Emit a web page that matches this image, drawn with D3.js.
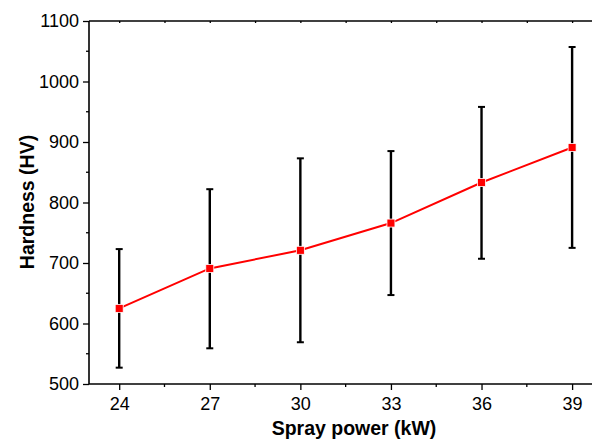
<!DOCTYPE html>
<html>
<head>
<meta charset="utf-8">
<script src="https://cdn.jsdelivr.net/npm/d3@7"></script>
<style>
  body { margin: 0; background: #fff; }
  svg { display: block; font-family: "Liberation Sans", Arial, sans-serif; }
</style>
</head>
<body>
<div id="chart"></div>
<script>
// data
const power = [24, 27, 30, 33, 36, 39];
const hardness = [625, 691, 721, 766, 833, 891];
const errLow = [527, 559, 569, 647, 707, 725];
const errHigh = [723, 822, 873, 885, 958, 1057];
const xTicks = [24, 27, 30, 33, 36, 39];
const yTicks = [500, 600, 700, 800, 900, 1000, 1100];

const width = 592;
const height = 443;

const svg = d3.select('#chart')
  .append('svg')
  .attr('width', width)
  .attr('height', height);

// plot frame, right side runs past the image edge
const x = d3.scaleLinear().domain([23, 40]).range([89, 602.3]);
const y = d3.scaleLinear().domain([500, 1100]).range([384, 21]);

const xMinor = d3.range(22.5, 40, 1.5).filter((v) => v > 23 && !xTicks.includes(v));
const yMinor = d3.range(550, 1100, 100);

// bottom axis
const xAxis = svg.append('g')
  .attr('transform', `translate(0,${y(500)})`)
  .call(d3.axisBottom(x).tickValues(xTicks).tickSize(6).tickPadding(7).tickFormat(d3.format('d')));
xAxis.append('g')
  .selectAll('line')
  .data(xMinor)
  .enter()
  .append('line')
  .attr('x1', (d) => x(d))
  .attr('x2', (d) => x(d))
  .attr('y1', 0)
  .attr('y2', 3);

// top axis (ticks inward)
const topAxis = svg.append('g')
  .attr('transform', `translate(0,${y(1100)})`)
  .call(d3.axisTop(x).tickValues(xTicks.concat(xMinor)).tickSize(-2).tickFormat(''));

// left axis
const yAxis = svg.append('g')
  .attr('transform', `translate(${x(23)},0)`)
  .call(d3.axisLeft(y).tickValues(yTicks).tickSize(6).tickPadding(4).tickFormat(d3.format('d')));
yAxis.append('g')
  .selectAll('line')
  .data(yMinor)
  .enter()
  .append('line')
  .attr('x1', 0)
  .attr('x2', -3)
  .attr('y1', (d) => y(d))
  .attr('y2', (d) => y(d));

[xAxis, topAxis, yAxis].forEach((g) => {
  g.attr('font-size', 18).attr('font-family', '"Liberation Sans", Arial, sans-serif');
  g.select('.domain').attr('stroke', '#000').attr('stroke-width', 1.6);
  g.selectAll('line').attr('stroke', '#000').attr('stroke-width', 1.3);
  g.selectAll('text').attr('fill', '#000');
});
yAxis.selectAll('.domain').attr('d', `M0,${y(500)}V${y(1100)}`);
xAxis.selectAll('.domain').attr('d', `M${x(23)},0H${x(40)}`);
topAxis.selectAll('.domain').attr('d', `M${x(23)},0H${x(40)}`);

// error bars
const bars = svg.append('g').attr('class', 'err');
power.forEach((p, i) => {
  bars.append('line')
    .attr('x1', x(p)).attr('x2', x(p))
    .attr('y1', y(errLow[i])).attr('y2', y(errHigh[i]))
    .attr('stroke', '#000').attr('stroke-width', 2.4);
  [errLow[i], errHigh[i]].forEach((v) => {
    bars.append('line')
      .attr('x1', x(p) - 3.5).attr('x2', x(p) + 3.5)
      .attr('y1', y(v)).attr('y2', y(v))
      .attr('stroke', '#000').attr('stroke-width', 2);
  });
});

// line
const pts = power.map((p, i) => [p, hardness[i]]);
svg.append('path')
  .datum(pts)
  .attr('d', d3.line().x((d) => x(d[0])).y((d) => y(d[1])))
  .attr('fill', 'none')
  .attr('stroke', '#ff0000')
  .attr('stroke-width', 2);

// square markers
svg.append('g')
  .selectAll('rect')
  .data(pts)
  .enter()
  .append('rect')
  .attr('x', (d) => x(d[0]) - 4)
  .attr('y', (d) => y(d[1]) - 4)
  .attr('width', 8)
  .attr('height', 8)
  .attr('fill', '#ff0000')
  .attr('stroke', '#fff')
  .attr('stroke-width', 0.8);

// titles
svg.append('text')
  .attr('x', 354)
  .attr('y', 435)
  .attr('text-anchor', 'middle')
  .attr('font-size', 19.5)
  .attr('font-weight', 'bold')
  .text('Spray power (kW)');

svg.append('text')
  .attr('transform', 'translate(34,202) rotate(-90)')
  .attr('text-anchor', 'middle')
  .attr('font-size', 19.5)
  .attr('font-weight', 'bold')
  .text('Hardness (HV)');
</script>
</body>
</html>
